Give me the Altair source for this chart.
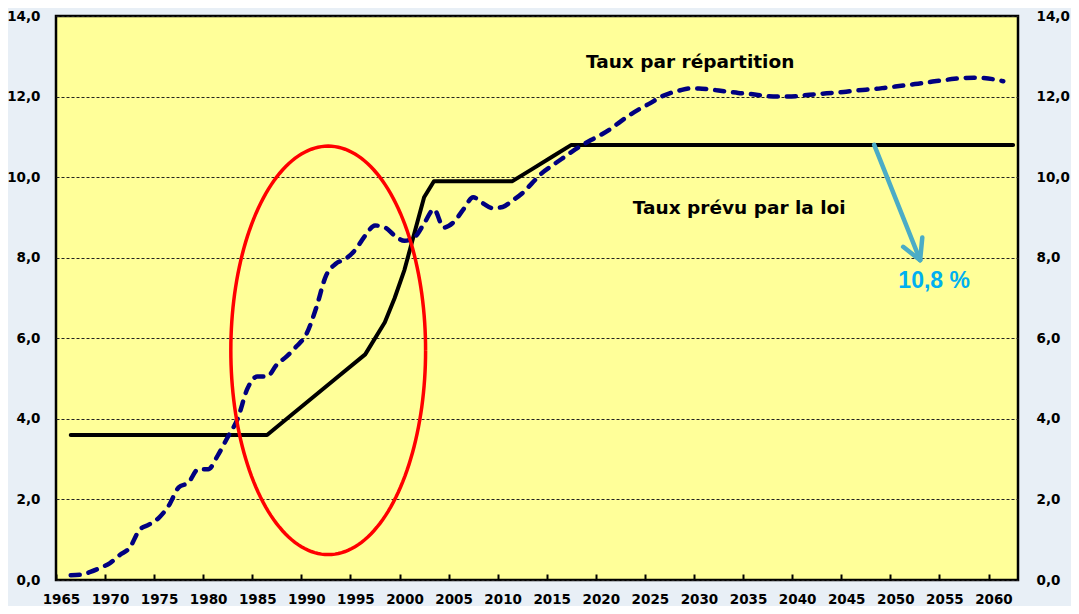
import math
import altair as alt
import pandas as pd

# ---------------- data ----------------
label_years = list(range(1965, 2061, 5))
y_ticks = [0, 2, 4, 6, 8, 10, 12, 14]

# "Taux prévu par la loi" (black solid line)
law_years = [1966, 1986, 1993, 1996, 1998, 1999, 2000, 2001, 2002, 2003,
             2011, 2013, 2015, 2017, 2062]
law_rates = [3.6, 3.6, 5.0, 5.6, 6.4, 7.0, 7.7, 8.6, 9.5, 9.9,
             9.9, 10.2, 10.5, 10.8, 10.8]

# "Taux par répartition" (navy dashed line)
rep_years = list(range(1966, 2062))
rep_rates = [
    0.12, 0.13, 0.20, 0.30, 0.42, 0.62, 0.80, 1.24, 1.38, 1.55,      # 1966-1975
    1.85, 2.30, 2.42, 2.75, 2.75, 3.10, 3.55, 4.00, 4.75, 5.05,      # 1976-1985
    5.05, 5.35, 5.55, 5.80, 6.10, 6.75, 7.55, 7.85, 7.97, 8.20,      # 1986-1995
    8.55, 8.80, 8.75, 8.55, 8.42, 8.50, 8.85, 9.20, 8.75, 8.88,      # 1996-2005
    9.20, 9.50, 9.35, 9.23, 9.26, 9.42, 9.60, 9.85, 10.10, 10.28,    # 2006-2015
    10.45, 10.62, 10.78, 10.92, 11.05, 11.20, 11.38, 11.55, 11.70, 11.83,  # 2016-2025
    11.98, 12.08, 12.15, 12.20, 12.20, 12.18, 12.15, 12.12, 12.09, 12.07,  # 2026-2035
    12.04, 12.01, 12.00, 12.00, 12.01, 12.04, 12.06, 12.08, 12.10, 12.12,  # 2036-2045
    12.15, 12.17, 12.19, 12.22, 12.25, 12.28, 12.31, 12.34, 12.38, 12.41,  # 2046-2055
    12.44, 12.46, 12.47, 12.46, 12.43, 12.38,                              # 2056-2061
]

label_rep = "Taux par répartition"
label_law = "Taux prévu par la loi"
label_final = "10,8 %"

# ---------------- layout / style constants ----------------
X_DOMAIN = [1964.5, 2062.5]
Y_DOMAIN = [0, 14]
W, H = 962, 564
HALF_YEAR_PX = W / (X_DOMAIN[1] - X_DOMAIN[0]) / 2

FONT = "DejaVu Sans"
YELLOW = "#FFFF99"
NAVY = "#000080"
ARROW_BLUE = "#4BACC6"
TEXT_BLUE = "#00B0F0"

# annotation geometry (data units)
ELL_CX, ELL_CY, ELL_RX, ELL_RY = 1992.23, 5.70, 9.92, 5.07
ARROW_START = (2047.85, 10.8)
ARROW_TIP = (2052.53, 7.94)
ARROW_WINGS = [(2050.8, 8.27), (2052.75, 8.50)]

x_axis = alt.Axis(
    values=label_years, format="d", title=None,
    tickOffset=-HALF_YEAR_PX, labelOffset=HALF_YEAR_PX,
    offset=-6, tickSize=6, tickWidth=2, tickColor="black",
    domain=False, grid=False, labelFlush=False, labelOverlap=False,
    labelFont=FONT, labelFontSize=13.5, labelFontWeight="bold",
    labelColor="black", labelPadding=12,
)
label_expr = "replace(format(datum.value, '.1f'), '.', ',')"
y_axis_left = alt.Axis(
    orient="left", values=y_ticks, labelExpr=label_expr, title=None,
    domain=False, ticks=False, tickSize=0,
    grid=True, gridColor="#222222", gridDash=[3, 2], gridWidth=1,
    labelFont=FONT, labelFontSize=13.5, labelFontWeight="bold",
    labelColor="black", labelPadding=16,
)
y_axis_right = alt.Axis(
    orient="right", values=y_ticks, labelExpr=label_expr, title=None,
    domain=False, ticks=False, tickSize=0, grid=False,
    labelFont=FONT, labelFontSize=13.5, labelFontWeight="bold",
    labelColor="black", labelPadding=18,
)

xs = alt.Scale(domain=X_DOMAIN, nice=False, zero=False)
ys = alt.Scale(domain=Y_DOMAIN, nice=False, zero=False)


def X(field):
    return alt.X(field, type="quantitative", scale=xs, axis=x_axis)


def Y(field, axis=None):
    return alt.Y(field, type="quantitative", scale=ys, axis=axis)


df_law = pd.DataFrame({"year": law_years, "rate": law_rates})
df_rep = pd.DataFrame({"year": rep_years, "rate": rep_rates})

n_ell = 181
df_ell = pd.DataFrame({
    "i": list(range(n_ell)),
    "x": [ELL_CX + ELL_RX * math.cos(2 * math.pi * k / (n_ell - 1)) for k in range(n_ell)],
    "y": [ELL_CY + ELL_RY * math.sin(2 * math.pi * k / (n_ell - 1)) for k in range(n_ell)],
})

df_arrow = pd.DataFrame({
    "x": [ARROW_START[0]] + [w[0] for w in ARROW_WINGS],
    "y": [ARROW_START[1]] + [w[1] for w in ARROW_WINGS],
    "x2": [ARROW_TIP[0]] * 3,
    "y2": [ARROW_TIP[1]] * 3,
})

df_txt_black = pd.DataFrame({
    "x": [2029.1, 2034.1],
    "y": [12.86, 9.23],
    "t": [label_rep, label_law],
})
df_txt_blue = pd.DataFrame({"x": [2053.96], "y": [7.42], "t": [label_final]})

law = alt.Chart(df_law).mark_line(
    color="black", strokeWidth=4, strokeCap="round", strokeJoin="round"
).encode(x=X("year"), y=Y("rate", y_axis_right))

rep = alt.Chart(df_rep).mark_line(
    color=NAVY, strokeWidth=4.5, strokeDash=[9, 9], strokeCap="round",
    interpolate="monotone"
).encode(x=X("year"), y=Y("rate", y_axis_left))

ellipse = alt.Chart(df_ell).mark_line(
    color="#FF0000", strokeWidth=3.5
).encode(x=X("x"), y=Y("y"), order="i:Q")

arrow = alt.Chart(df_arrow).mark_rule(
    color=ARROW_BLUE, strokeWidth=4.5, strokeCap="round"
).encode(x=X("x"), y=Y("y"), x2="x2:Q", y2="y2:Q")

txt_black = alt.Chart(df_txt_black).mark_text(
    font=FONT, fontSize=18.5, fontWeight="bold", color="black",
    align="center", baseline="middle"
).encode(x=X("x"), y=Y("y"), text="t:N")

txt_blue = alt.Chart(df_txt_blue).mark_text(
    font="Liberation Sans", fontSize=23, fontWeight="bold", color=TEXT_BLUE,
    align="center", baseline="middle"
).encode(x=X("x"), y=Y("y"), text="t:N")

chart = alt.layer(
    law, rep, ellipse, arrow, txt_black, txt_blue
).resolve_scale(
    y="independent"
).properties(
    width=W, height=H,
    autosize=alt.AutoSizeParams(type="none"),
    padding={"left": 48, "top": 8, "right": 53, "bottom": 26},
    background="#E8EFF6",
).configure_view(
    stroke="black", strokeWidth=2.5, fill=YELLOW
)

chart.save("out.html", embed_options={"renderer": "svg", "actions": False})
